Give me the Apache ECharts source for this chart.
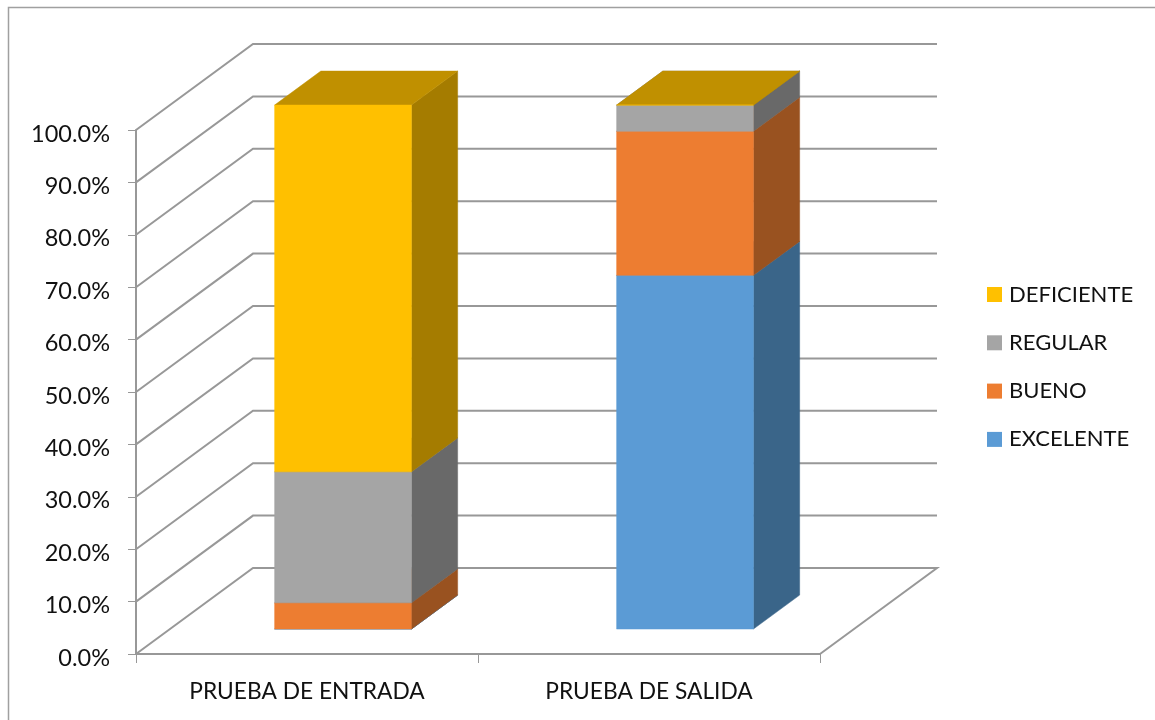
<!DOCTYPE html>
<html>
<head>
<meta charset="utf-8">
<script src="https://cdn.jsdelivr.net/npm/echarts@6/dist/echarts.min.js"></script>
<style>html,body{margin:0;padding:0;background:#fff}#c{width:1155px;height:720px}</style>
</head>
<body>
<div id="c"></div>
<script>
const categories = ['PRUEBA DE ENTRADA', 'PRUEBA DE SALIDA'];
const excelente = [0, 67.5];
const bueno = [5, 27.5];
const regular = [25, 5];
const deficiente = [70, 0];
const yTicks = [0, 10, 20, 30, 40, 50, 60, 70, 80, 90, 100];
const seriesNames = ['EXCELENTE', 'BUENO', 'REGULAR', 'DEFICIENTE'];
const seriesValues = [excelente, bueno, regular, deficiente];
const frontColors = ['#5B9BD5', '#ED7D31', '#A5A5A5', '#FFC000'];
const sideColors = ['#3A6589', '#995220', '#696969', '#A57C00'];
const topColors = ['#467AA8', '#BB6326', '#838383', '#C09000'];
const legendOrder = ['DEFICIENTE', 'REGULAR', 'BUENO', 'EXCELENTE'];

const wallDX = 117, wallDY = -86;          // projection of the full chart depth
const barStartX = 0.308, barStartY = 0.29; // bar position along that depth
const barDepth = 0.395;
const barWidthRatio = 0.4;
const lineColor = '#989898';
const fontFamily = 'Lato, "Open Sans", sans-serif';

function wallItem(params, api) {
  const sys = params.coordSys;
  const y = api.coord([0, api.value(1)])[1];
  const isFloor = api.value(1) === 0;
  const x0 = sys.x, x1 = sys.x + sys.width;
  const pts = [[x0, y], [x0 + wallDX, y + wallDY], [x1 + wallDX, y + wallDY]];
  if (isFloor) pts.push([x1, y]);
  return { type: 'polyline', shape: { points: pts },
           style: { stroke: lineColor, lineWidth: 2, fill: 'none' } };
}

function boxItem(idx) {
  return function (params, api) {
    const cat = api.value(0), lo = api.value(1), hi = api.value(2);
    const c0 = api.coord([cat, lo]), c1 = api.coord([cat, hi]);
    const w = api.size([1, 0])[0] * barWidthRatio;
    const ox = wallDX * barStartX, oy = wallDY * barStartY;
    const dx = wallDX * barDepth, dy = wallDY * barDepth;
    const l = c0[0] - w / 2 + ox, r = c0[0] + w / 2 + ox;
    const b = c0[1] + oy, t = c1[1] + oy;
    const poly = (pts, fill) => ({ type: 'polygon', shape: { points: pts }, style: { fill: fill, stroke: fill, lineWidth: 0.5 } });
    return { type: 'group', children: [
      poly([[r, b], [r + dx, b + dy], [r + dx, t + dy], [r, t]], sideColors[idx]),
      poly([[l, t], [r, t], [r + dx, t + dy], [l + dx, t + dy]], topColors[idx]),
      poly([[l, b], [r, b], [r, t], [l, t]], frontColors[idx])
    ] };
  };
}

const base = categories.map(() => 0);
const boxSeries = seriesNames.map((name, idx) => {
  const rows = categories.map((_, i) => {
    const lo = base[i]; base[i] += seriesValues[idx][i];
    return [i, lo, base[i]];
  });
  return {
    name: name, type: 'custom', renderItem: boxItem(idx), data: rows, z: 5 + idx,
    itemStyle: { color: frontColors[idx] }, silent: true,
    encode: { x: 0, y: [1, 2] }
  };
});

const chart = echarts.init(document.getElementById('c'), null, { renderer: 'canvas' });
chart.setOption({
  animation: false,
  backgroundColor: '#fff',
  textStyle: { fontFamily: fontFamily },
  graphic: [{
    type: 'polyline', silent: true,
    shape: { points: [[8.5, 720], [8.5, 7.5], [1155, 7.5]] },
    style: { stroke: '#a0a0a0', lineWidth: 1.5, fill: 'none' }
  }],
  grid: { left: 136, top: 130, width: 684, height: 524, containLabel: false },
  legend: {
    orient: 'vertical', left: 987, top: 283.5, icon: 'rect',
    itemWidth: 15, itemHeight: 15, itemGap: 26.3,
    data: legendOrder,
    textStyle: { fontFamily: fontFamily, fontSize: 22, color: '#111', padding: [0, 0, 0, 2] },
    padding: 0, selectedMode: false
  },
  xAxis: {
    type: 'category', data: categories,
    axisLine: { lineStyle: { color: lineColor, width: 2 } },
    axisTick: { show: true, length: 9, lineStyle: { color: lineColor, width: 1 } },
    axisLabel: { color: '#111', fontSize: 22.75, fontFamily: fontFamily, margin: 26, interval: 0 }
  },
  yAxis: {
    type: 'value', min: 0, max: 100, interval: 10,
    axisLine: { show: true, lineStyle: { color: lineColor, width: 2 } },
    axisTick: { show: true, length: 8, lineStyle: { color: lineColor, width: 1 } },
    splitLine: { show: false },
    axisLabel: { color: '#111', fontSize: 23.5, fontFamily: fontFamily, margin: 26,
      verticalAlign: 'top', lineHeight: 8,
      formatter: v => v.toFixed(1) + '%' }
  },
  series: [{
    type: 'custom', renderItem: wallItem, silent: true, z: 1,
    data: yTicks.map(t => [0, t]), encode: { x: 0, y: 1 }
  }].concat(boxSeries)
});
</script>
</body>
</html>
